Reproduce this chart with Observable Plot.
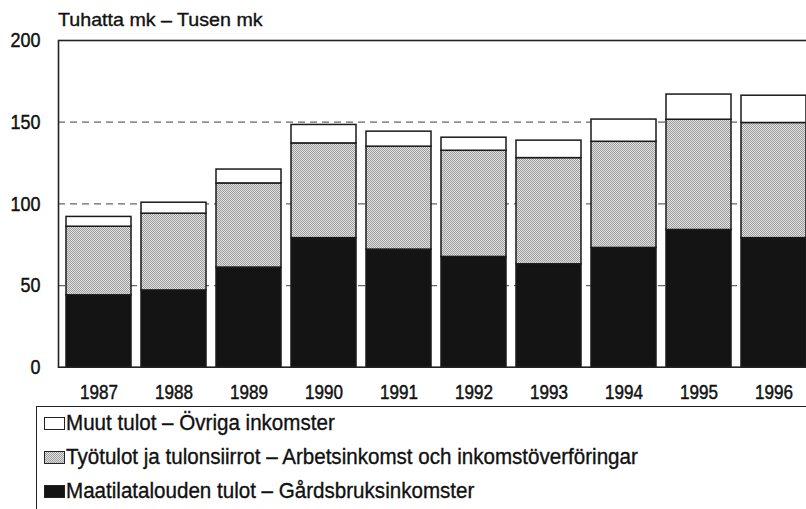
<!DOCTYPE html>
<html><head><meta charset="utf-8">
<script src="https://cdn.jsdelivr.net/npm/d3@7"></script>
<script src="https://cdn.jsdelivr.net/npm/@observablehq/plot@0.6"></script>
<style>
html,body{margin:0;padding:0;background:#fff;overflow:hidden;width:806px;height:509px}
body{position:relative;font-family:"Liberation Sans",Arial,sans-serif;color:#111}
#chart{position:absolute;left:0;top:0}
#chart text{stroke:#111;stroke-width:0.45px}
#title{position:absolute;left:58px;white-space:nowrap;transform-origin:0 0;-webkit-text-stroke:0.35px #111}
#legend{position:absolute;left:36px;top:406px;width:820px;height:160px;border-top:1.6px solid #222;border-left:1.6px solid #222}
.row{position:absolute;left:7px;display:flex;align-items:center;white-space:nowrap}
.sw{display:inline-block;width:19px;height:11px;border:1.5px solid #222;margin-right:1px;box-sizing:content-box;flex:none}
.txt{display:inline-block;transform-origin:0 50%;-webkit-text-stroke:0.35px #111}
</style></head>
<body>
<svg width="0" height="0" style="position:absolute"><defs>
<pattern id="stip" width="2" height="2" patternUnits="userSpaceOnUse">
<rect width="2" height="2" fill="#e2e2e2"/><rect width="1" height="1" fill="#9c9c9c"/><rect x="1" y="1" width="1" height="1" fill="#9c9c9c"/>
</pattern></defs></svg>
<div id="title"></div>
<div id="chart"></div>
<div id="legend"></div>
<script>
const titleText = "Tuhatta mk – Tusen mk";
const years = ["1987","1988","1989","1990","1991","1992","1993","1994","1995","1996"];
const farm  = [44, 47, 61, 79, 72, 67.5, 63, 73, 84, 79];
const work  = [42, 47, 51.5, 58, 63, 65, 65, 65, 67.5, 70.5];
const other = [6, 6.7, 8.5, 11.3, 9.2, 8, 10.7, 13.6, 15.4, 16.7];
const seriesNames = [
  "Maatilatalouden tulot – Gårdsbruksinkomster",
  "Työtulot ja tulonsiirrot – Arbetsinkomst och inkomstöverföringar",
  "Muut tulot – Övriga inkomster"
];
const seriesFills = ["#141414", "url(#stip)", "#ffffff"];
const yTicks = [0, 50, 100, 150, 200];
const gridTicks = [50, 100, 150];

const rows = years.flatMap((yr, i) => [
  {year: yr, series: seriesNames[0], value: farm[i]},
  {year: yr, series: seriesNames[1], value: work[i]},
  {year: yr, series: seriesNames[2], value: other[i]}
]);

const ff = getComputedStyle(document.body).fontFamily;
const ctx = document.createElement("canvas").getContext("2d");
function measure(text, fs) { ctx.font = fs + "px " + ff; return ctx.measureText(text).width; }

// condensed look: scale glyphs horizontally
const tickFs = 20;
const tickScale = 38 / measure("1987", tickFs);
const titleFs = 18.6;
const titleScale = 205 / measure(titleText, titleFs);
const legFs = 21.5;
const legScale = 573 / measure(seriesNames[1], legFs);

const title = document.getElementById("title");
title.textContent = titleText;
title.style.fontSize = titleFs + "px";
title.style.lineHeight = titleFs + "px";
title.style.top = (26.7 - 0.8465 * titleFs) + "px";
title.style.transform = `scaleX(${titleScale})`;

const chart = Plot.plot({
  width: 806, height: 420,
  marginTop: 40, marginBottom: 53.3, marginLeft: 58, marginRight: -7,
  style: {fontFamily: ff, color: "#111", background: "transparent"},
  x: {domain: years, paddingInner: 0.137, paddingOuter: 0.062, align: 0.5, label: null},
  y: {domain: [0, 200], label: null},
  color: {domain: seriesNames, range: seriesFills},
  marks: [
    Plot.ruleY(gridTicks, {stroke: "#666", strokeDasharray: "7,5", strokeWidth: 1.2}),
    Plot.barY(rows, {x: "year", y: "value", fill: "series", z: "series", order: seriesNames, stroke: "#1a1a1a", strokeWidth: 1.5}),
    Plot.frame({stroke: "#222", strokeWidth: 1.6}),
    Plot.axisY({ticks: yTicks, tickSize: 0, tickPadding: 18, fontSize: 21, label: null}),
    Plot.axisX({tickSize: 0, tickPadding: 18, fontSize: tickFs, label: null})
  ]
});
document.getElementById("chart").appendChild(chart);
chart.querySelectorAll("text").forEach(t => {
  const b = t.getBBox();
  const anchor = getComputedStyle(t).textAnchor;
  const ax = anchor === "end" ? b.x + b.width : anchor === "middle" ? b.x + b.width / 2 : b.x;
  const tr = t.getAttribute("transform") || "";
  t.setAttribute("transform", `${tr} translate(${ax},0) scale(${tickScale},1) translate(${-ax},0)`);
});

const legend = document.getElementById("legend");
const legendOrder = [2, 1, 0];
const legendBaselines = [432, 465.5, 500];
const swBg = ["#fff", "repeating-conic-gradient(#9c9c9c 0 25%, #e2e2e2 0 50%) 0 0/2px 2px", "#141414"];
legendOrder.forEach((si, k) => {
  const r = document.createElement("div");
  r.className = "row";
  r.style.fontSize = legFs + "px";
  r.style.lineHeight = legFs + "px";
  r.style.height = legFs + "px";
  r.style.top = (legendBaselines[k] - 0.8465 * legFs - 407.6) + "px";
  const sw = document.createElement("span");
  sw.className = "sw";
  sw.style.background = swBg[k];
  r.appendChild(sw);
  const tx = document.createElement("span");
  tx.className = "txt";
  tx.textContent = seriesNames[si];
  tx.style.transform = `scaleX(${legScale})`;
  r.appendChild(tx);
  legend.appendChild(r);
});
</script>
</body></html>
